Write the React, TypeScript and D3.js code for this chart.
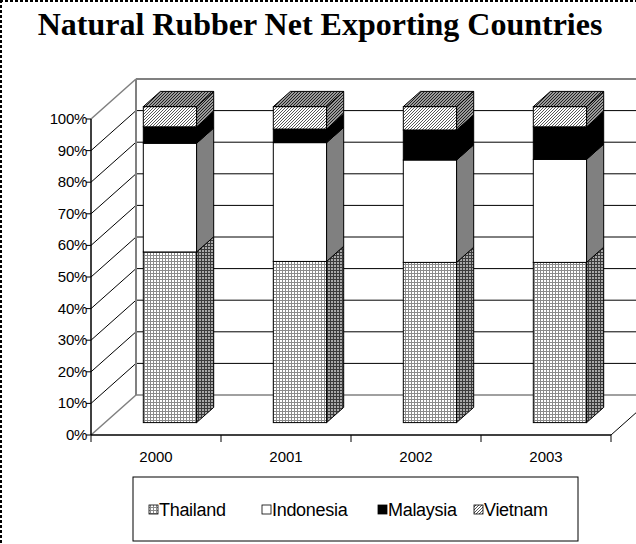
import React from "react";
import * as d3 from "d3";

const years = ["2000", "2001", "2002", "2003"];
const countries = ["Thailand", "Indonesia", "Malaysia", "Vietnam"];
const thailand = [54.0, 51.0, 50.7, 50.7];
const indonesia = [34.4, 37.6, 32.4, 32.6];
const malaysia = [5.2, 4.3, 9.5, 10.3];
const vietnam = [6.4, 7.1, 7.4, 6.4];
const yTicks = [0, 10, 20, 30, 40, 50, 60, 70, 80, 90, 100];

const W = 636;
const H = 544;
// depth offset of the 3d box
const DX = 45;
const DY = 40;
const Z1 = 0.31;
const Z2 = 0.69;

const fills = [
  { front: "url(#thaiFront)", side: "url(#thaiSide)", top: "url(#thaiSide)" },
  { front: "#ffffff", side: "#808080", top: "#808080" },
  { front: "#000000", side: "#000000", top: "#000000" },
  { front: "url(#vietFront)", side: "url(#vietDark)", top: "url(#vietDark)" },
];

const App = () => {
  const x = d3.scaleBand().domain(years).range([91, 611]);
  const y = d3.scaleLinear().domain([0, 100]).range([435, 119]);
  const bw = x.bandwidth();

  const P = (px: number, v: number, z: number) => [px + z * DX, y(v) - z * DY];
  const poly = (pts: number[][]) => pts.map((p) => p.join(",")).join(" ");

  const series = [thailand, indonesia, malaysia, vietnam];
  const stacked = years.map((yr, i) => {
    let acc = 0;
    return series.map((s, k) => {
      const seg = { year: yr, k, y0: acc, y1: acc + s[i] };
      acc += s[i];
      return seg;
    });
  });

  const x0 = x.range()[0];
  const x1 = x.range()[1];

  const legendItems = [
    { name: countries[0], x: 149 },
    { name: countries[1], x: 262 },
    { name: countries[2], x: 378 },
    { name: countries[3], x: 474 },
  ];

  return (
    <div style={{ position: "fixed", left: 0, top: 0 }}>
      <svg width={W} height={H} style={{ display: "block", background: "#fff" }}>
        <defs>
          <pattern id="thaiFront" width={3} height={3} patternUnits="userSpaceOnUse">
            <rect width={3} height={3} fill="#fff" />
            <path d="M0 0.5H3M0.5 0V3" stroke="#8a8a8a" strokeWidth={1} />
          </pattern>
          <pattern id="thaiSide" width={3} height={3} patternUnits="userSpaceOnUse">
            <rect width={3} height={3} fill="#a8a8a8" />
            <path d="M0 0.5H3M0.5 0V3" stroke="#3a3a3a" strokeWidth={1} />
          </pattern>
          <pattern id="vietFront" width={3} height={3} patternUnits="userSpaceOnUse">
            <rect width={3} height={3} fill="#fff" />
            <path d="M-1 1L1 -1M0 3L3 0M2 4L4 2" stroke="#444" strokeWidth={0.9} />
          </pattern>
          <pattern id="vietDark" width={3} height={3} patternUnits="userSpaceOnUse">
            <rect width={3} height={3} fill="#9a9a9a" />
            <path d="M-1 1L1 -1M0 3L3 0M2 4L4 2" stroke="#111" strokeWidth={0.9} />
          </pattern>
        </defs>

        {/* dashed chart-area border (left and top visible) */}
        <line x1={1} y1={0} x2={1} y2={H} stroke="#000" strokeWidth={2} strokeDasharray="3 2" />
        <line x1={0} y1={1} x2={W} y2={1} stroke="#000" strokeWidth={2} strokeDasharray="3 2" />

        <text
          x={320}
          y={35}
          textAnchor="middle"
          fontFamily="'Liberation Serif', 'Times New Roman', serif"
          fontWeight="bold"
          fontSize={32}
        >
          Natural Rubber Net Exporting Countries
        </text>

        {/* walls */}
        <g>
          {yTicks.slice(1, -1).map((t) => (
            <g key={t}>
              <line x1={x0} y1={y(t)} x2={x0 + DX} y2={y(t) - DY} stroke="#000" />
              <line x1={x0 + DX} y1={y(t) - DY} x2={W + 10} y2={y(t) - DY} stroke="#000" />
            </g>
          ))}
          <line x1={x0} y1={y(100)} x2={x0 + DX} y2={y(100) - DY} stroke="#808080" strokeWidth={1.5} />
          <line x1={x0 + DX} y1={y(100) - DY} x2={W + 10} y2={y(100) - DY} stroke="#808080" strokeWidth={2} />
          <line x1={x0 + DX} y1={y(100) - DY} x2={x0 + DX} y2={y(0) - DY} stroke="#808080" strokeWidth={2} />
          <line x1={x0} y1={y(0)} x2={x0 + DX} y2={y(0) - DY} stroke="#808080" strokeWidth={1.5} />
          <line x1={x0 + DX} y1={y(0) - DY} x2={W + 10} y2={y(0) - DY} stroke="#808080" strokeWidth={1.5} />
          <line x1={x1} y1={y(0)} x2={x1 + DX} y2={y(0) - DY} stroke="#000" />
        </g>

        {/* bars */}
        {stacked.map((segs, i) => {
          const cx = (x(segs[0].year) as number) + bw / 2;
          const a = cx - bw * 0.205;
          const b = cx + bw * 0.205;
          return (
            <g key={i}>
              {segs.map((s) => {
                const f = fills[s.k];
                const fa = P(a, s.y1, Z1);
                const fb = P(b, s.y0, Z1);
                return (
                  <g key={s.k} stroke="#000" strokeWidth={1}>
                    <rect x={fa[0]} y={fa[1]} width={fb[0] - fa[0]} height={fb[1] - fa[1]} fill={f.front} />
                    <polygon
                      points={poly([P(b, s.y0, Z1), P(b, s.y1, Z1), P(b, s.y1, Z2), P(b, s.y0, Z2)])}
                      fill={f.side}
                    />
                    {s.k === segs.length - 1 && (
                      <polygon
                        points={poly([P(a, s.y1, Z1), P(b, s.y1, Z1), P(b, s.y1, Z2), P(a, s.y1, Z2)])}
                        fill={f.top}
                      />
                    )}
                  </g>
                );
              })}
            </g>
          );
        })}

        {/* axes */}
        <line x1={x0} y1={y(0)} x2={x1} y2={y(0)} stroke="#000" strokeWidth={1.5} />
        <line x1={x0} y1={y(0)} x2={x0} y2={y(100)} stroke="#000" strokeWidth={1.5} />
        {[...years.map((yr) => x(yr) as number), x1].map((px, i) => (
          <line key={i} x1={px} y1={y(0)} x2={px} y2={y(0) + 7} stroke="#000" />
        ))}
        {yTicks.map((t) => (
          <g key={t}>
            <line x1={x0 - 5} y1={y(t)} x2={x0} y2={y(t)} stroke="#000" />
            <text
              x={x0 - 4}
              y={y(t) + 5}
              textAnchor="end"
              fontFamily="'Liberation Sans', Arial, sans-serif"
              fontSize={15}
              letterSpacing={-0.3}
            >
              {t}%
            </text>
          </g>
        ))}
        {years.map((yr) => (
          <text
            key={yr}
            x={(x(yr) as number) + bw / 2}
            y={462}
            textAnchor="middle"
            fontFamily="'Liberation Sans', Arial, sans-serif"
            fontSize={15}
          >
            {yr}
          </text>
        ))}

        {/* legend */}
        <rect x={133} y={477} width={445} height={64} fill="none" stroke="#000" />
        {legendItems.map((d, k) => (
          <g key={d.name}>
            <rect x={d.x} y={505} width={9} height={9} fill={fills[k].front} stroke="#000" strokeWidth={0.8} />
            <text
              x={d.x + 10}
              y={516}
              fontFamily="'Liberation Sans', Arial, sans-serif"
              fontSize={18}
              letterSpacing={-0.3}
            >
              {d.name}
            </text>
          </g>
        ))}
      </svg>
    </div>
  );
};

export default App;
